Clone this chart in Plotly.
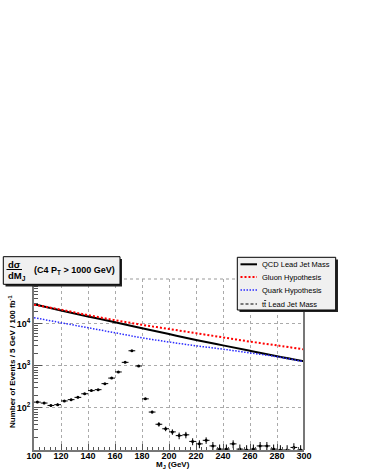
import plotly.graph_objects as go

# smooth predictions, read every 20 GeV
curve_mass = [100, 120, 140, 160, 180, 200, 220, 240, 260, 280, 300]
qcd_lead_mass = [29500, 20900, 15100, 11000, 7940, 5750, 4170, 3090, 2290, 1700, 1290]
gluon_hyp = [28800, 21900, 16200, 12300, 9550, 7590, 6030, 4790, 3800, 3090, 2480]
quark_hyp = [14100, 10700, 8130, 6170, 4680, 3720, 3020, 2510, 2040, 1660, 1260]

# ttbar lead jet mass histogram, 5 GeV bins
ttbar_mass = [102.5, 107.5, 112.5, 117.5, 122.5, 127.5, 132.5, 137.5, 142.5, 147.5,
              152.5, 157.5, 162.5, 167.5, 172.5, 177.5, 182.5, 187.5, 192.5, 197.5,
              202.5, 207.5, 212.5, 217.5, 222.5, 227.5, 232.5, 237.5, 242.5, 247.5,
              252.5, 257.5, 262.5, 267.5, 272.5, 277.5, 282.5, 287.5, 292.5, 297.5]
ttbar_events = [138, 131, 115, 120, 147, 158, 179, 218, 259, 273,
                380, 515, 720, 1220, 2300, 1000, 165, 80, 41, 32,
                27, 22, 23, 16, 14, 17, 12.5, 10.5, 10.5, 14,
                10.5, 10, 10.5, 12.5, 12.5, 10.5, 10, 10, 11.5, 10]
ttbar_err = [8, 8, 7, 8, 8, 9, 9, 10, 11, 11,
             13, 15, 18, 23, 32, 21, 9, 6, 5, 4,
             4, 4, 4, 3, 3, 3, 3, 3, 3, 3,
             3, 3, 3, 3, 3, 3, 3, 3, 3, 3]

x_ticks = [100, 120, 140, 160, 180, 200, 220, 240, 260, 280, 300]
y_ticks = [100, 1000, 10000]
y_ticktext = ["10<sup>2</sup>", "10<sup>3</sup>", "10<sup>4</sup>"]

legend_names = ["QCD Lead Jet Mass", "Gluon Hypothesis", "Quark Hypothesis",
                "t<span style='text-decoration:overline'>t</span> Lead Jet Mass"]
legend_styles = [("black", "solid", 2), ("red", "2px,2px", 2), ("#2a2aff", "1.5px,1.5px", 1.5),
                 ("black", "3px,2px", 1)]

W, H = 366, 473
L, R, T, B = 34, 62, 279, 23
FONT = "Liberation Sans, Arial, sans-serif"


# pixel -> paper helpers for the boxes drawn on top
def px(x):
    return (x - L) / (W - L - R)


def py(y):
    return (H - B - y) / (H - T - B)


fig = go.Figure()
fig.add_trace(go.Scatter(x=curve_mass, y=qcd_lead_mass, mode='lines', line=dict(color='black', width=2),
                         line_shape='spline', name=legend_names[0]))
fig.add_trace(go.Scatter(x=curve_mass, y=gluon_hyp, mode='lines', line=dict(color='red', width=2, dash='2px,2px'),
                         line_shape='spline', name=legend_names[1]))
fig.add_trace(go.Scatter(x=curve_mass, y=quark_hyp, mode='lines',
                         line=dict(color='#2a2aff', width=1.5, dash='1.5px,1.5px'),
                         line_shape='spline', name=legend_names[2]))
fig.add_trace(go.Scatter(x=ttbar_mass, y=ttbar_events, mode='markers', name='ttbar',
                         marker=dict(color='black', size=3),
                         error_x=dict(type='constant', value=2.5, width=0, thickness=1, color='black'),
                         error_y=dict(type='data', array=ttbar_err, width=0, thickness=1, color='black')))

shapes = []
annotations = []

# plot frame: solid right edge, dotted top edge
shapes.append(dict(type='line', xref='paper', yref='paper', x0=1, x1=1, y0=0, y1=1,
                   line=dict(color='#777777', width=2)))
shapes.append(dict(type='line', xref='paper', yref='paper', x0=0, x1=1, y0=1, y1=1,
                   line=dict(color='#999999', width=1, dash='dot')))

# title pave
shapes.append(dict(type='rect', xref='paper', yref='paper', x0=px(5.5), x1=px(122), y0=py(259), y1=py(286.5),
                   fillcolor='#222222', line=dict(width=0), layer='above'))
shapes.append(dict(type='rect', xref='paper', yref='paper', x0=px(3.3), x1=px(120), y0=py(256.7), y1=py(284.3),
                   fillcolor='#f0f0f0', line=dict(color='black', width=1), layer='above'))
shapes.append(dict(type='line', xref='paper', yref='paper', x0=px(6.5), x1=px(22), y0=py(269.5), y1=py(269.5),
                   line=dict(color='black', width=1), layer='above'))
annotations.append(dict(xref='paper', yref='paper', x=px(14), y=py(264), text='<b>d\u03c3</b>', showarrow=False,
                        font=dict(family=FONT, size=9.5, color='black'), xanchor='center', yanchor='middle'))
annotations.append(dict(xref='paper', yref='paper', x=px(6), y=py(275.5), text='<b>dM<sub>J</sub></b>',
                        showarrow=False, font=dict(family=FONT, size=9.5, color='black'),
                        xanchor='left', yanchor='middle'))
annotations.append(dict(xref='paper', yref='paper', x=px(32), y=py(270),
                        text='<b>(C4 P<sub>T</sub> > 1000 GeV)</b>', showarrow=False,
                        font=dict(family=FONT, size=9, color='black'), xanchor='left', yanchor='middle'))

# legend pave
shapes.append(dict(type='rect', xref='paper', yref='paper', x0=px(239.5), x1=px(338), y0=py(259.5), y1=py(312),
                   fillcolor='#222222', line=dict(width=0), layer='above'))
shapes.append(dict(type='rect', xref='paper', yref='paper', x0=px(237.3), x1=px(335.7), y0=py(257.3), y1=py(310),
                   fillcolor='#f0f0f0', line=dict(color='black', width=1), layer='above'))
legend_y = [264.3, 277, 290, 304]
for name, (col, dash, lw), yy in zip(legend_names, legend_styles, legend_y):
    shapes.append(dict(type='line', xref='paper', yref='paper', x0=px(240.5), x1=px(257), y0=py(yy), y1=py(yy),
                       line=dict(color=col, width=lw, dash=dash), layer='above'))
    annotations.append(dict(xref='paper', yref='paper', x=px(260), y=py(yy), text=name, showarrow=False,
                            font=dict(family=FONT, size=7.5, color='black'), xanchor='left', yanchor='middle'))

# axis titles
annotations.append(dict(xref='paper', yref='paper', x=px(12), y=py(362),
                        text='<b>Number of Events / 5 GeV / 100 fb<sup>-1</sup></b>', showarrow=False,
                        textangle=-90, font=dict(family=FONT, size=8, color='black'),
                        xanchor='center', yanchor='middle'))
annotations.append(dict(xref='paper', yref='paper', x=px(173), y=py(464.5),
                        text='<b>M<sub>J</sub> (GeV)</b>', showarrow=False,
                        font=dict(family=FONT, size=8, color='black'), xanchor='center', yanchor='middle'))

fig.update_layout(
    width=W, height=H,
    margin=dict(l=L, r=R, t=T, b=B, pad=0),
    paper_bgcolor='white', plot_bgcolor='white',
    showlegend=False,
    shapes=shapes, annotations=annotations,
    font=dict(family=FONT, size=9, color='black'),
)
fig.update_xaxes(range=[100, 300], tickvals=x_ticks, ticks='inside', ticklen=6, tickwidth=1, tickcolor='#555555',
                 showline=True, linecolor='#777777', linewidth=2, mirror=False, ticklabelstandoff=-4,
                 showgrid=True, gridcolor='#aaaaaa', griddash='dot', gridwidth=1, zeroline=False,
                 tickfont=dict(family=FONT, size=9, color='black', weight='bold'),
                 minor=dict(dtick=4, tick0=100, ticks='inside', ticklen=3, tickcolor='#555555', showgrid=False))
fig.update_yaxes(type='log', range=[1, 5.07], tickvals=y_ticks, ticktext=y_ticktext, ticks='inside', ticklen=8,
                 tickwidth=1, tickcolor='#555555',
                 showline=True, linecolor='#777777', linewidth=2, mirror=False,
                 showgrid=True, gridcolor='#aaaaaa', griddash='dot', gridwidth=1, zeroline=False,
                 tickfont=dict(family=FONT, size=9, color='black', weight='bold'),
                 minor=dict(dtick='D1', ticks='inside', ticklen=4, tickcolor='#555555', showgrid=False))

# page body has a default margin; drop it so the figure sits at the window origin
fig.write_html("out.html", config={'displayModeBar': False},
               post_script="document.body.style.margin='0';")
